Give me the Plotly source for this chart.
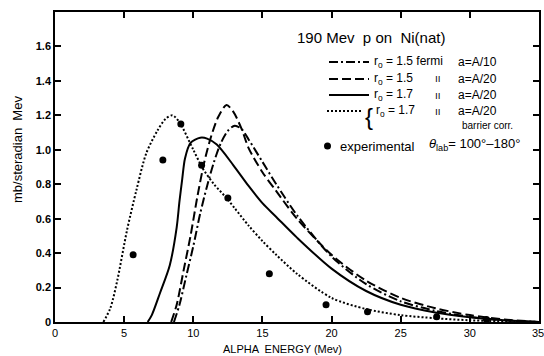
import plotly.graph_objects as go

# --- data ---
# r0 = 1.5 fermi, a = A/10 (dash-dot)
e_dashdot = [8.6, 9.0, 9.5, 10.0, 10.5, 11.0, 11.5, 12.0, 12.5, 13.0, 13.5, 14.0, 15.0, 16.0, 17.5, 20.0, 22.5, 25.0, 27.5, 30.0, 32.5, 35.0]
y_dashdot = [0.0, 0.10, 0.27, 0.44, 0.63, 0.79, 0.93, 1.04, 1.11, 1.14, 1.12, 1.06, 0.93, 0.80, 0.62, 0.38, 0.22, 0.12, 0.065, 0.03, 0.01, 0.0]
# r0 = 1.5, a = A/20 (dashed)
e_dashed = [8.4, 8.8, 9.3, 9.8, 10.3, 10.8, 11.3, 11.8, 12.4, 12.9, 13.5, 14.0, 15.0, 16.0, 17.5, 20.0, 22.5, 25.0, 27.5, 30.0, 32.5, 35.0]
y_dashed = [0.0, 0.10, 0.30, 0.50, 0.73, 0.93, 1.08, 1.19, 1.26, 1.22, 1.12, 1.01, 0.87, 0.76, 0.60, 0.39, 0.24, 0.14, 0.08, 0.04, 0.015, 0.0]
# r0 = 1.7, a = A/20 (solid)
e_solid = [6.7, 7.0, 7.6, 8.3, 8.8, 9.0, 9.2, 9.4, 9.8, 10.5, 11.0, 11.7, 12.9, 14.0, 15.0, 16.0, 17.5, 20.0, 22.5, 25.0, 27.5, 30.0, 32.5, 35.0]
y_solid = [0.0, 0.04, 0.17, 0.33, 0.55, 0.70, 0.83, 0.95, 1.04, 1.07, 1.065, 1.03, 0.91, 0.79, 0.69, 0.61, 0.49, 0.31, 0.18, 0.10, 0.055, 0.028, 0.01, 0.0]
# r0 = 1.7, a = A/20, barrier corr. (dotted)
e_dotted = [3.5, 4.0, 4.5, 5.2, 5.9, 6.6, 7.4, 8.0, 8.5, 9.0, 10.0, 10.7, 11.5, 12.4, 13.0, 14.0, 15.0, 16.0, 17.5, 20.0, 22.5, 25.0, 27.5, 30.0, 35.0]
y_dotted = [0.0, 0.08, 0.24, 0.53, 0.77, 0.98, 1.11, 1.18, 1.20, 1.16, 1.00, 0.89, 0.80, 0.72, 0.66, 0.56, 0.47, 0.39, 0.28, 0.14, 0.075, 0.04, 0.022, 0.01, 0.0]
# experimental points
e_exp = [5.65, 7.8, 9.1, 10.6, 12.5, 15.5, 19.6, 22.6, 27.6, 31.2]
y_exp = [0.39, 0.94, 1.15, 0.91, 0.72, 0.28, 0.10, 0.06, 0.03, 0.015]

x_ticks = [0, 5, 10, 15, 20, 25, 30, 35]
y_ticks = [0, 0.2, 0.4, 0.6, 0.8, 1.0, 1.2, 1.4, 1.6]
y_ticktext = ["0", "0.2", "0.4", "0.6", "0.8", "1.0", "1.2", "1.4", "1.6"]

FONT = "Liberation Sans"
W, H = 544, 356
L, R, T, B = 55, 5, 12, 34

fig = go.Figure()
fig.add_trace(go.Scatter(x=e_dashdot, y=y_dashdot, mode="lines", line=dict(color="black", width=2, dash="9px,3px,2px,3px", shape="spline", smoothing=0.8)))
fig.add_trace(go.Scatter(x=e_dashed, y=y_dashed, mode="lines", line=dict(color="black", width=2, dash="9px,4px", shape="spline", smoothing=0.8)))
fig.add_trace(go.Scatter(x=e_solid, y=y_solid, mode="lines", line=dict(color="black", width=2, shape="spline", smoothing=0.8)))
fig.add_trace(go.Scatter(x=e_dotted, y=y_dotted, mode="lines", line=dict(color="black", width=2, dash="2px,2px", shape="spline", smoothing=0.8)))
fig.add_trace(go.Scatter(x=e_exp, y=y_exp, mode="markers", marker=dict(color="black", size=7)))

axis_common = dict(showline=True, linecolor="black", linewidth=1.5, mirror="ticks",
                   ticks="inside", ticklen=6, tickcolor="black", tickwidth=1.5,
                   showgrid=False, zeroline=False, automargin=False,
                   tickfont=dict(family=FONT, size=11, color="black"))
fig.update_xaxes(range=[0, 35], tickvals=x_ticks, ticktext=[str(v) for v in x_ticks], **axis_common)
fig.update_yaxes(range=[0, 1.8], tickvals=y_ticks, ticktext=["<b>%s</b>" % t for t in y_ticktext], **axis_common)

pw = W - L - R
ph = H - T - B

def px(xp):
    return (xp - L) / pw

def py(yp):
    return 1 - (yp - T) / ph

ann = []
def text(xp, yp, s, size=12, xanchor="left"):
    ann.append(dict(x=px(xp), y=py(yp), xref="paper", yref="paper", text=s, showarrow=False,
                    xanchor=xanchor, yanchor="middle", font=dict(family=FONT, size=size, color="black")))

text(295, 37, "190 Mev  p on  Ni(nat)", size=15)
rows = [(62, "9px,3px,2px,3px", "r<sub>o</sub> = 1.5 fermi", "a=A/10"),
        (79, "9px,4px", "r<sub>o</sub> = 1.5", "a=A/20"),
        (95, "solid", "r<sub>o</sub> = 1.7", "a=A/20"),
        (111, "2px,2px", "r<sub>o</sub> = 1.7", "a=A/20")]
shapes = []
for i, (yy, dash, t1, t2) in enumerate(rows):
    x0 = 327 if i == 3 else 329
    x1 = 362 if i == 3 else 369
    shapes.append(dict(type="line", xref="paper", yref="paper", x0=px(x0), x1=px(x1), y0=py(yy), y1=py(yy),
                       line=dict(color="black", width=2, dash=dash)))
    text(374 if i == 3 else 372, yy, t1, size=12)
    if i > 0:
        text(433, yy, "ıı", size=10)
    text(456, yy, t2, size=12)
text(363, 117, "{", size=24)
text(460, 126, "barrier corr.", size=10)
shapes.append(dict(type="circle", xref="paper", yref="paper", x0=px(324), x1=px(331), y0=py(142.5), y1=py(149.5),
                   fillcolor="black", line=dict(color="black", width=0)))
text(338, 146, "experimental", size=13)
text(427, 145, "<i>θ</i><sub>lab</sub>= 100°–180°", size=13)

# last x tick label (sits at the paper edge)
ann.append(dict(x=px(538), y=py(333), xref="paper", yref="paper", text="35", showarrow=False,
                xanchor="center", yanchor="middle", font=dict(family=FONT, size=11, color="black")))

# axis titles
ann.append(dict(x=px(282), y=py(349), xref="paper", yref="paper", text="ALPHA  ENERGY (Mev)", showarrow=False,
                xanchor="center", yanchor="middle", font=dict(family=FONT, size=11, color="black")))
ann.append(dict(x=px(17), y=py(150), xref="paper", yref="paper", text="mb/steradian  Mev", showarrow=False,
                textangle=-90, xanchor="center", yanchor="middle", font=dict(family=FONT, size=13, color="black")))

fig.update_layout(width=W, height=H, margin=dict(l=L, r=R, t=T, b=B),
                  paper_bgcolor="white", plot_bgcolor="white", showlegend=False,
                  annotations=ann, shapes=shapes)
fig.write_html("out.html")
